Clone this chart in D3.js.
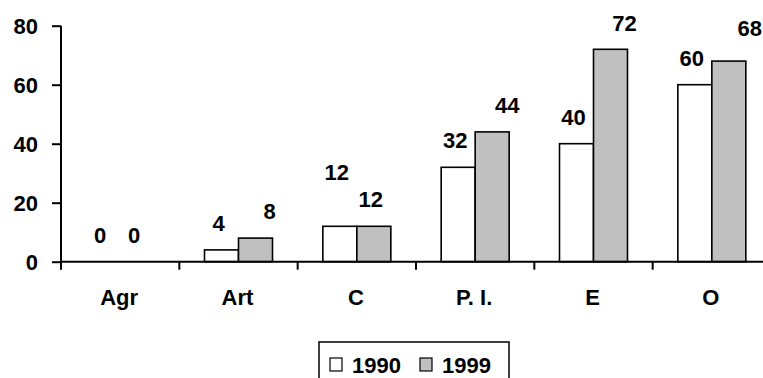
<!DOCTYPE html>
<html>
<head>
<meta charset="utf-8">
<script src="https://cdn.jsdelivr.net/npm/d3@7/dist/d3.min.js"></script>
<style>
  html, body { margin: 0; padding: 0; background: #fff; }
  svg { display: block; }
  text { font-family: "Liberation Sans", Arial, sans-serif; font-weight: bold; fill: #000; }
</style>
</head>
<body>
<svg id="chart" width="763" height="378"></svg>
<script>
// ---- data ----
const categories = ["Agr", "Art", "C", "P. I.", "E", "O"];
const seriesNames = ["1990", "1999"];
const values1990 = [0, 4, 12, 32, 40, 60];
const values1999 = [0, 8, 12, 44, 72, 68];
const yTicks = [0, 20, 40, 60, 80];
// label nudges (presentation only): [dx, dy] per category
const nudge1990 = [[0, 0], [0, 0], [0, -27], [0, 0], [0, 0], [0, 0]];
const nudge1999 = [[0, 0], [17, 0], [0, 0], [18, 0], [17, 1], [24, -6]];

const svg = d3.select("#chart");
const FS = 22;

const x = d3.scaleBand().domain(categories).range([61, 771]).paddingInner(0).paddingOuter(0);
const y = d3.scaleLinear().domain([0, 80]).range([261.7, 25.7]);
const barW = 34;
const inner = d3.scaleBand().domain(seriesNames).range([0, barW * 2]);

const fills = { "1990": "#ffffff", "1999": "#c0c0c0" };
const data = categories.map((c, i) => ({ c, i, vals: [
  { s: "1990", v: values1990[i], n: nudge1990[i] },
  { s: "1999", v: values1999[i], n: nudge1999[i] }
]}));

const groups = svg.selectAll("g.cat").data(data).enter().append("g")
  .attr("class", "cat")
  .attr("transform", d => `translate(${x(d.c) + x.bandwidth() / 2 - barW},0)`);

groups.selectAll("rect").data(d => d.vals.filter(v => v.v > 0)).enter().append("rect")
  .attr("x", d => inner(d.s))
  .attr("y", d => y(d.v))
  .attr("width", inner.bandwidth())
  .attr("height", d => y(0) - y(d.v))
  .attr("fill", d => fills[d.s])
  .attr("stroke", "#000")
  .attr("stroke-width", 1.6);

groups.selectAll("text.val").data(d => d.vals).enter().append("text")
  .attr("class", "val")
  .attr("x", d => inner(d.s) + inner.bandwidth() / 2 - 3 + d.n[0])
  .attr("y", d => y(d.v) - 19 + d.n[1])
  .attr("text-anchor", "middle")
  .attr("font-size", FS)
  .text(d => d.v);

// y axis
const yAxis = d3.axisLeft(y).tickValues(yTicks).tickSize(9).tickPadding(14);
const gy = svg.append("g").attr("transform", "translate(61,0)").call(yAxis);
gy.select(".domain").attr("stroke", "#000").attr("stroke-width", 2).attr("d", `M0,${y(80)}V${y(0)}`);
gy.selectAll(".tick line").attr("stroke", "#000").attr("stroke-width", 2);
gy.selectAll(".tick text").attr("font-size", FS).attr("font-family", null).attr("dy", "0.36em");

// x axis
const gx = svg.append("g").attr("transform", `translate(0,${y(0)})`);
gx.append("line").attr("x1", 61).attr("x2", 771).attr("y1", 0).attr("y2", 0)
  .attr("stroke", "#000").attr("stroke-width", 2);
const bounds = categories.map(c => x(c));
gx.selectAll("line.tk").data(bounds).enter().append("line")
  .attr("class", "tk")
  .attr("x1", d => d).attr("x2", d => d).attr("y1", 0).attr("y2", 8)
  .attr("stroke", "#000").attr("stroke-width", 2);
gx.selectAll("text.cl").data(categories).enter().append("text")
  .attr("class", "cl")
  .attr("x", d => x(d) + x.bandwidth() / 2 - 1)
  .attr("y", 43)
  .attr("text-anchor", "middle")
  .attr("font-size", FS)
  .text(d => d);

// legend
const lg = svg.append("g");
lg.append("rect").attr("x", 319).attr("y", 342).attr("width", 190).attr("height", 60)
  .attr("fill", "#fff").attr("stroke", "#000").attr("stroke-width", 1.5);
const legendX = [330, 420];
seriesNames.forEach((s, i) => {
  lg.append("rect").attr("x", legendX[i]).attr("y", 358).attr("width", 12).attr("height", 13)
    .attr("fill", fills[s]).attr("stroke", "#000").attr("stroke-width", 1.2);
  lg.append("text").attr("x", legendX[i] + 22).attr("y", 372.5)
    .attr("font-size", FS).text(s);
});
</script>
</body>
</html>
